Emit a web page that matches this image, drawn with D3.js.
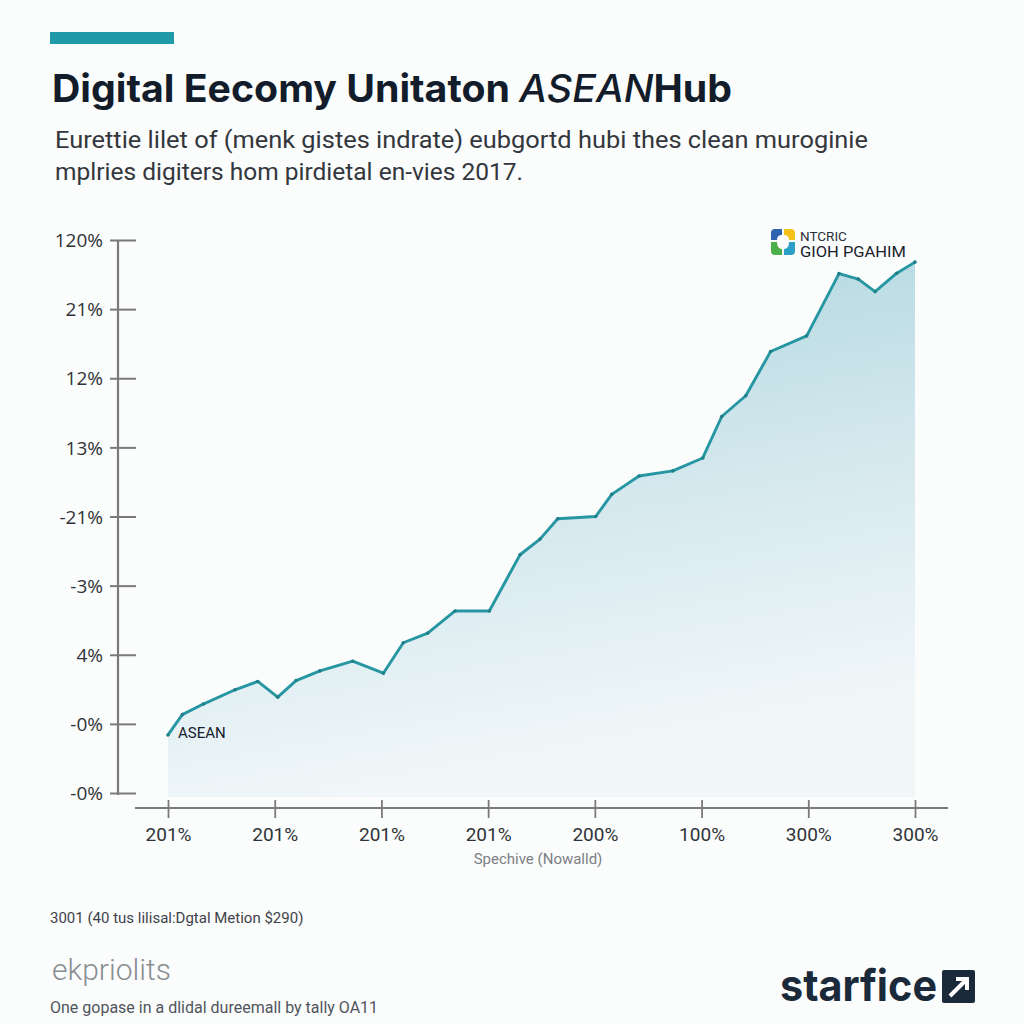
<!DOCTYPE html>
<html><head><meta charset="utf-8">
<script src="https://cdn.jsdelivr.net/npm/d3@7"></script>
<style>
html,body{margin:0;padding:0;background:#fbfcfc;}
svg{display:block;}
</style></head>
<body>
<script>
// ---- data ----
const yTickValues = [0, 15, 30, 45, 60, 75, 90, 105, 120];
const yTickLabels = ["-0%", "-0%", "4%", "-3%", "-21%", "13%", "12%", "21%", "120%"];
const xTickValues = [0, 1, 2, 3, 4, 5, 6, 7];
const xTickLabels = ["201%", "201%", "201%", "201%", "200%", "100%", "300%", "300%"];
const seriesX = [0, 0.134, 0.331, 0.628, 0.841, 1.028, 1.2, 1.424, 1.731, 2.018, 2.205, 2.434, 2.69, 3.011,
  3.299, 3.486, 3.652, 4.008, 4.158, 4.414, 4.73, 5.011, 5.189, 5.414, 5.647, 5.985, 6.288, 6.469, 6.626, 6.829, 7];
const seriesY = [12.6, 17.0, 19.3, 22.4, 24.2, 20.8, 24.4, 26.5, 28.6, 26.0, 32.6, 34.7, 39.5, 39.5,
  51.7, 55.1, 59.5, 60.0, 64.8, 68.8, 69.9, 72.7, 81.7, 86.2, 95.8, 99.2, 112.7, 111.5, 108.8, 112.8, 115.2];
const seriesName = "ASEAN";
const legendLines = ["NTCRIC", "GIOH PGAHIM"];

const W = 1024, H = 1024;
const svg = d3.select("body").append("svg").attr("width", W).attr("height", H);
svg.append("rect").attr("width", W).attr("height", H).attr("fill", "#fbfcfc");

// header
svg.append("rect").attr("x", 50).attr("y", 32).attr("width", 124).attr("height", 12).attr("fill", "#1f9aa8");
const title = svg.append("text").attr("x", 52).attr("y", 102)
  .attr("font-family", "Inter, 'Open Sans', sans-serif").attr("font-weight", 700)
  .attr("font-size", 38).attr("fill", "#121c2a")
  .attr("textLength", 680).attr("lengthAdjust", "spacingAndGlyphs");
title.append("tspan").text("Digital Eecomy Unitaton ");
title.append("tspan").attr("font-style", "italic").attr("font-weight", 500).text("ASEAN");
title.append("tspan").text("Hub");

const subStyle = s => s.attr("font-family", "Roboto, sans-serif").attr("font-size", 23).attr("fill", "#33373d");
subStyle(svg.append("text").attr("x", 55).attr("y", 148)
  .attr("textLength", 813).attr("lengthAdjust", "spacingAndGlyphs")
  .text("Eurettie lilet of (menk gistes indrate) eubgortd hubi thes clean muroginie"));
subStyle(svg.append("text").attr("x", 55).attr("y", 180)
  .attr("textLength", 468).attr("lengthAdjust", "spacingAndGlyphs")
  .text("mplries digiters hom pirdietal en-vies 2017."));

// scales
const y = d3.scaleLinear().domain([0, 120]).range([793, 240]);
const x = d3.scaleLinear().domain([0, 7]).range([168, 915]);

// area gradient
const defs = svg.append("defs");
const grad = defs.append("linearGradient").attr("id", "ag").attr("x1", 0).attr("y1", 0).attr("x2", 0.25).attr("y2", 1);
grad.append("stop").attr("offset", "0%").attr("stop-color", "#a9d3dc");
grad.append("stop").attr("offset", "55%").attr("stop-color", "#d4e8ee");
grad.append("stop").attr("offset", "100%").attr("stop-color", "#f1f7f9");

const pts = seriesX.map((v, i) => [v, seriesY[i]]);
const area = d3.area().x(d => x(d[0])).y0(797).y1(d => y(d[1]));
svg.append("path").datum(pts).attr("d", area).attr("fill", "url(#ag)");

const line = d3.line().x(d => x(d[0])).y(d => y(d[1]));
svg.append("path").datum(pts).attr("d", line).attr("fill", "none")
  .attr("stroke", "#2696a2").attr("stroke-width", 2.9).attr("stroke-linejoin", "round");
svg.append("g").selectAll("circle").data(pts).join("circle")
  .attr("cx", d => x(d[0])).attr("cy", d => y(d[1])).attr("r", 1.8).attr("fill", "#1f7f8a");

// y axis
const yAxis = d3.axisLeft(y).tickValues(yTickValues).tickFormat((d, i) => yTickLabels[i]).tickSize(0);
const gy = svg.append("g").attr("transform", "translate(118,0)").call(yAxis);
gy.select(".domain").remove();
gy.append("line").attr("x1", 0).attr("x2", 0).attr("y1", 240).attr("y2", 795).attr("stroke", "#7a7a7a").attr("stroke-width", 2.2);
gy.selectAll(".tick").append("line").attr("x1", -8).attr("x2", 18).attr("stroke", "#7a7a7a").attr("stroke-width", 2);
gy.selectAll(".tick text").attr("x", -15).attr("dy", "0.35em")
  .attr("font-family", "'Open Sans', sans-serif").attr("font-size", 19).attr("fill", "#2f3338");

// x axis
const xAxis = d3.axisBottom(x).tickValues(xTickValues).tickFormat((d, i) => xTickLabels[i]).tickSize(0);
const gx = svg.append("g").attr("transform", "translate(0,808)").call(xAxis);
gx.select(".domain").remove();
gx.append("line").attr("x1", 135).attr("x2", 948).attr("stroke", "#7a7a7a").attr("stroke-width", 2.2);
gx.selectAll(".tick").append("line").attr("y1", -8).attr("y2", 10).attr("stroke", "#7a7a7a").attr("stroke-width", 1.8);
gx.selectAll(".tick text").attr("y", 33).attr("dy", 0)
  .attr("font-family", "Roboto, sans-serif").attr("font-size", 19).attr("fill", "#2f3338");
svg.append("text").attr("x", 538).attr("y", 864).attr("text-anchor", "middle")
  .attr("font-family", "Roboto, sans-serif").attr("font-size", 15).attr("fill", "#7b7f84")
  .text("Spechive (Nowalld)");

// series label
svg.append("text").attr("x", 178).attr("y", 738).attr("font-family", "Roboto, sans-serif")
  .attr("font-size", 15).attr("fill", "#16202c").text(seriesName);

// legend logo
const lg = svg.append("g").attr("transform", "translate(771,229)");
lg.append("path").attr("d", "M0,11 L0,4 Q0,0 4,0 L11,0 L11,6 Q6,6 6,11 Z").attr("fill", "#2f63b0");
lg.append("path").attr("d", "M13,0 L20,0 Q24,0 24,4 L24,11 L18,11 Q18,6 13,6 Z").attr("fill", "#f2c21b");
lg.append("path").attr("d", "M0,13 L6,13 Q6,20 11,20 L11,26 L4,26 Q0,26 0,22 Z").attr("fill", "#4bb04a");
lg.append("path").attr("d", "M18,13 L24,13 L24,22 Q24,26 20,26 L13,26 L13,20 Q18,20 18,13 Z").attr("fill", "#2aa0c8");
svg.append("text").attr("x", 800).attr("y", 241).attr("font-family", "Roboto, sans-serif")
  .attr("font-size", 13.5).attr("fill", "#2a3038").text(legendLines[0]);
svg.append("text").attr("x", 800).attr("y", 257).attr("font-family", "Roboto, sans-serif")
  .attr("font-size", 15).attr("fill", "#1a222c").attr("textLength", 106).attr("lengthAdjust", "spacingAndGlyphs").text(legendLines[1]);

// footer
svg.append("text").attr("x", 50).attr("y", 923).attr("font-family", "Roboto, sans-serif")
  .attr("font-size", 15).attr("fill", "#3e434a").text("3001 (40 tus lilisal:Dgtal Metion $290)");
svg.append("text").attr("x", 52).attr("y", 980).attr("font-family", "Roboto, sans-serif").attr("font-weight", 300)
  .attr("font-size", 30).attr("fill", "#8a8e93").text("ekpriolits");
svg.append("text").attr("x", 50).attr("y", 1013).attr("font-family", "Roboto, sans-serif")
  .attr("font-size", 16).attr("fill", "#50555c").text("One gopase in a dlidal dureemall by tally OA11");
svg.append("text").attr("x", 780).attr("y", 1001).attr("font-family", "Inter, sans-serif").attr("font-weight", 700)
  .attr("font-size", 44).attr("fill", "#1b2a3a").attr("textLength", 157).attr("lengthAdjust", "spacingAndGlyphs").text("starfice");
const ic = svg.append("g").attr("transform", "translate(942,970)");
ic.append("rect").attr("width", 33).attr("height", 33).attr("rx", 2).attr("fill", "#1b2a3a");
ic.append("path").attr("d", "M8,26 L24,10 M14,9 L25,9 L25,20").attr("stroke", "#fff").attr("stroke-width", 4).attr("fill", "none");
</script>
</body></html>
